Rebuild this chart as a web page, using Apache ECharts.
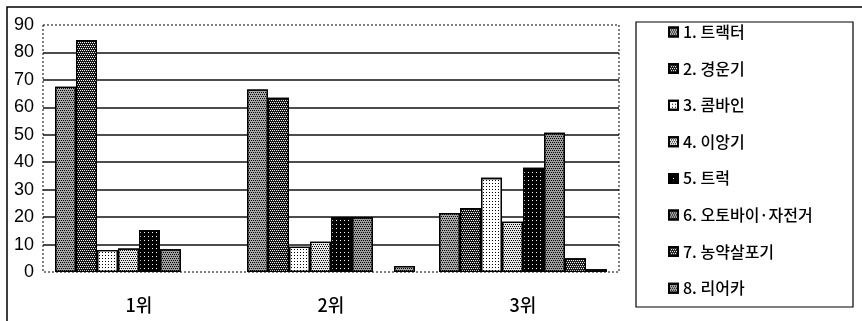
<!DOCTYPE html>
<html>
<head>
<meta charset="utf-8">
<script src="https://cdn.jsdelivr.net/npm/echarts@6/dist/echarts.min.js"></script>
<style>
  html, body { margin: 0; padding: 0; background: #fff; }
  #chart { width: 862px; height: 321px; }
</style>
</head>
<body>
<div id="chart"></div>
<script>
// 순위별 농기계 사고 비율 (%)
const categories = ['1위', '2위', '3위'];
const seriesNames = ['1. 트랙터', '2. 경운기', '3. 콤바인', '4. 이앙기', '5. 트럭', '6. 오토바이·자전거', '7. 농약살포기', '8. 리어카'];

const tractor   = [67.5, 66.5, 21.5];
const tiller    = [84.5, 63.5, 23.3];
const combine   = [8.0, 9.2, 34.3];
const planter   = [8.6, 11.0, 18.3];
const truck     = [15.3, 20.0, 38.0];
const bike      = [8.3, 20.0, 50.7];
const sprayer   = [0, 0, 5.0];
const cart      = [0, 2.2, 1.0];

const yMin = 0, yMax = 90, yStep = 10;

// plot frame (px)
const G = { left: 43, top: 25, width: 576, height: 247 };

// halftone-like fills: base colour + dot decal
const diamond = (c) => ({ symbol: 'rect', symbolSize: 1, color: c, dashArrayX: [[1, 1], [0, 1, 1, 0]], dashArrayY: [1, 1] });
const sparse = (c, n) => ({ symbol: 'rect', symbolSize: 1, color: c, dashArrayX: [1, n], dashArrayY: [1, n] });

const fills = [
  { color: '#a6a6a6', decal: diamond('#000') },
  { color: '#161616', decal: diamond('#fff') },
  { color: '#ffffff', decal: sparse('#000', 2) },
  { color: '#e6e6e6', decal: diamond('#000') },
  { color: '#000000', decal: sparse('#fff', 3) },
  { color: '#9c9c9c', decal: diamond('#000') },
  { color: '#202020', decal: diamond('#fff') },
  { color: '#a6a6a6', decal: diamond('#000') }
];

const values = [tractor, tiller, combine, planter, truck, bike, sprayer, cart];

const series = values.map((vals, i) => ({
  name: seriesNames[i],
  type: 'bar',
  barGap: '0%',
  barCategoryGap: '12.5%',
  itemStyle: {
    color: fills[i].color,
    decal: fills[i].decal,
    borderColor: '#000',
    borderWidth: 1.3
  },
  data: vals.map(v => v === 0 ? { value: v, itemStyle: { borderWidth: 0 } } : v)
}));

const chart = echarts.init(document.getElementById('chart'), null, { renderer: 'canvas' });
chart.setOption({
  animation: false,
  backgroundColor: '#fff',
  grid: { left: G.left, top: G.top, width: G.width, height: G.height, show: false },
  xAxis: {
    type: 'category',
    data: categories,
    axisLine: { show: false },
    axisTick: { show: false },
    axisLabel: { margin: 24, color: '#000', fontSize: 18, fontWeight: 500, fontFamily: 'Noto Sans CJK KR' }
  },
  yAxis: {
    type: 'value',
    min: yMin, max: yMax, interval: yStep,
    axisLine: { show: false },
    axisTick: { show: false },
    axisLabel: { margin: 9, color: '#000', fontSize: 18, fontFamily: 'Liberation Sans' },
    splitLine: { show: true, showMinLine: false, showMaxLine: false, lineStyle: { color: '#111', width: 1.5 } }
  },
  legend: {
    orient: 'vertical',
    left: 668, top: 23,
    padding: 0,
    itemWidth: 9, itemHeight: 9,
    itemGap: 18.6,
    itemTextGap: 3,
    icon: 'rect',
    textStyle: { color: '#000', fontSize: 16, fontWeight: 500, lineHeight: 18, fontFamily: 'Noto Sans CJK KR' },
    data: seriesNames
  },
  graphic: [
    { type: 'rect', z: 0, silent: true,
      shape: { x: 7, y: 7, width: 900, height: 400 },
      style: { fill: null, stroke: '#000', lineWidth: 1.5 } },
    { type: 'rect', z: 0, silent: true,
      shape: { x: G.left, y: G.top, width: G.width, height: G.height },
      style: { fill: null, stroke: '#000', lineWidth: 1, lineDash: [2, 2] } },
    { type: 'rect', z: 0, silent: true,
      shape: { x: 636, y: 22, width: 217, height: 285 },
      style: { fill: null, stroke: '#000', lineWidth: 1.2 } }
  ],
  series: series
});
</script>
</body>
</html>
